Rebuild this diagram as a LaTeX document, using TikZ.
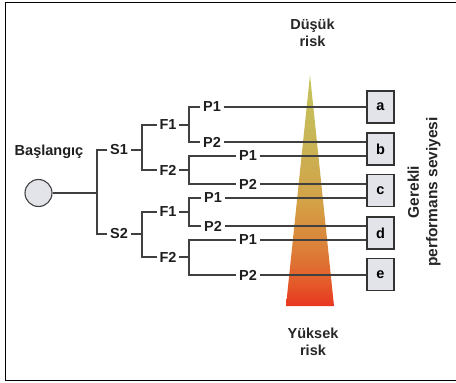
\documentclass[tikz,border=0pt]{standalone}
\usepackage{fontspec}
\setmainfont{Liberation Sans}
\definecolor{trtop}{HTML}{C4C45C}
\definecolor{trhi}{HTML}{C9B455}
\definecolor{trmid}{HTML}{D4A045}
\definecolor{trlow}{HTML}{DC7E38}
\definecolor{trlow2}{HTML}{E45A2A}
\definecolor{trbot}{HTML}{E8361F}
\definecolor{bxfill}{HTML}{E2E4E9}
\pgfdeclareverticalshading{riskshade}{100bp}{color(0bp)=(trbot); color(25bp)=(trbot); color(30bp)=(trlow2); color(37bp)=(trlow); color(47bp)=(trmid); color(60bp)=(trhi); color(75bp)=(trtop); color(100bp)=(trtop)}
\begin{document}
\begin{tikzpicture}[x=1pt,y=-1pt,
  conn/.style={draw=black!75, line width=1.25pt},
  lbl/.style={font=\fontsize{14.5}{16}\selectfont\bfseries, inner sep=2.5pt, text=black!88},
  pbox/.style={draw=black!80, line width=1.1pt, fill=bxfill, minimum width=27pt, minimum height=32pt, inner sep=0pt, font=\fontsize{14.5}{16}\selectfont\bfseries},
  risk/.style={font=\fontsize{14.5}{17}\selectfont\bfseries, align=center, text=black!85}
]
\useasboundingbox (0,0) rectangle (456,383);
% frame
\draw[line width=1.4pt] (456,2.5) -- (5.5,2.5) -- (5.5,380.5) -- (456,380.5);
% triangle
\shade[shading=riskshade] (310,75) -- (334,306) -- (286,306) -- cycle;
% risk labels
\node[risk] (low) at (312.5,33) {Düşük\\risk};
\node[risk] (high) at (313,342) {Yüksek\\risk};
\node[risk, rotate=90, font=\fontsize{15.5}{18.5}\selectfont\bfseries] (req) at (424,192) {Gerekli\\performans seviyesi};
% start
\node[circle, draw=black!75, line width=1.1pt, fill=bxfill, minimum size=27pt, inner sep=0pt] (start) at (38.5,193) {};
\node[lbl] (startlbl) at (49,152) {Başlangıç};
% S level
\node[lbl] (s1) at (119,150) {S1};
\node[lbl] (s2) at (119,234) {S2};
\coordinate (j0) at (97,193);
\coordinate (j0t) at (97,150);
\coordinate (j0b) at (97,234);
\draw[conn] (start.east) -- (j0);
\draw[conn] (s1.west) -- (j0t) -- (j0b) -- (s2.west);
% F level
\node[lbl] (f11) at (168,125) {F1};
\node[lbl] (f12) at (168,170) {F2};
\node[lbl] (f21) at (168,212) {F1};
\node[lbl] (f22) at (168,257) {F2};
\coordinate (j1) at (142,150);
\coordinate (j2) at (142,234);
\draw[conn] (s1.east) -- (j1);
\draw[conn] (s2.east) -- (j2);
\draw[conn] (f11.west) -- (f11.west -| j1) -- (f12.west -| j1) -- (f12.west);
\draw[conn] (f21.west) -- (f21.west -| j2) -- (f22.west -| j2) -- (f22.west);
% P level
\node[lbl] (p111) at (212,107) {P1};
\node[lbl] (p112) at (212,142) {P2};
\node[lbl] (p121) at (248,156) {P1};
\node[lbl] (p122) at (248,184) {P2};
\node[lbl] (p211) at (213,198) {P1};
\node[lbl] (p212) at (213,226) {P2};
\node[lbl] (p221) at (248,240) {P1};
\node[lbl] (p222) at (248,275) {P2};
\coordinate (k11) at (189,125);
\coordinate (k12) at (189,170);
\coordinate (k21) at (189,212);
\coordinate (k22) at (189,257);
\draw[conn] (f11.east) -- (k11);
\draw[conn] (f12.east) -- (k12);
\draw[conn] (f21.east) -- (k21);
\draw[conn] (f22.east) -- (k22);
\draw[conn] (p111.west) -- (p111.west -| k11) -- (p112.west -| k11) -- (p112.west);
\draw[conn] (p121.west) -- (p121.west -| k12) -- (p122.west -| k12) -- (p122.west);
\draw[conn] (p211.west) -- (p211.west -| k21) -- (p212.west -| k21) -- (p212.west);
\draw[conn] (p221.west) -- (p221.west -| k22) -- (p222.west -| k22) -- (p222.west);
% boxes
\node[pbox] (ba) at (380.5,107) {a};
\node[pbox] (bb) at (380.5,149) {b};
\node[pbox] (bc) at (380.5,190.5) {c};
\node[pbox] (bd) at (380.5,233) {d};
\node[pbox] (be) at (380.5,274.5) {e};
\draw[conn] (p111.east) -- (p111.east -| ba.west);
\draw[conn] (p112.east) -- (p112.east -| bb.west);
\draw[conn] (p121.east) -- (p121.east -| bb.west);
\draw[conn] (p122.east) -- (p122.east -| bc.west);
\draw[conn] (p211.east) -- (p211.east -| bc.west);
\draw[conn] (p212.east) -- (p212.east -| bd.west);
\draw[conn] (p221.east) -- (p221.east -| bd.west);
\draw[conn] (p222.east) -- (p222.east -| be.west);
\end{tikzpicture}
\end{document}
